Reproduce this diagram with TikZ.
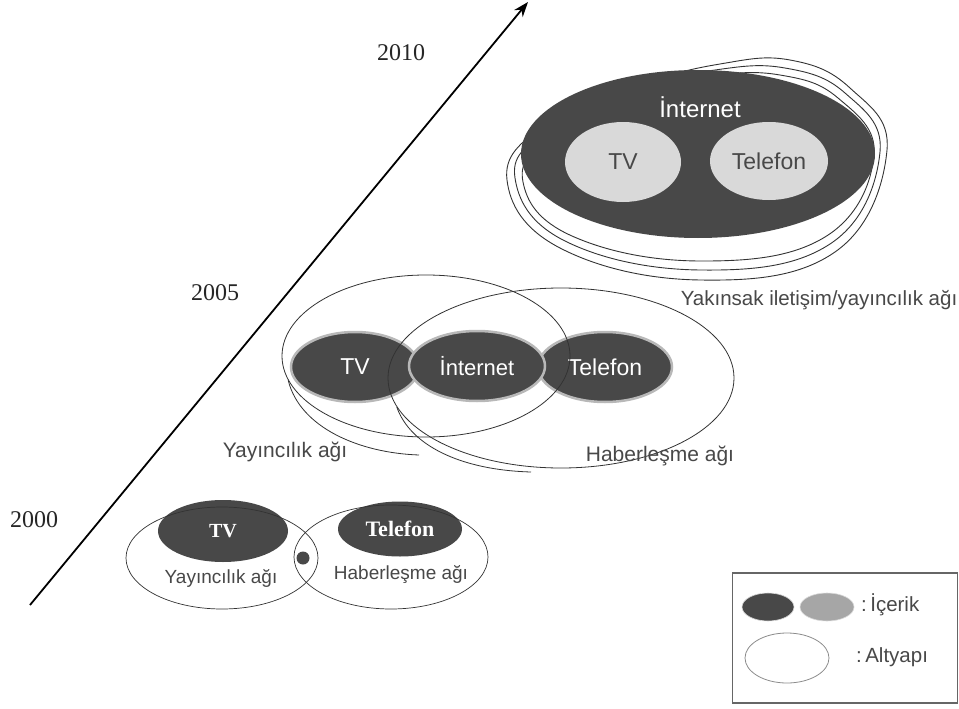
\documentclass[tikz,border=0pt]{standalone}
\usepackage{fontspec}
\setmainfont{Liberation Sans}
\newfontfamily\seriff{Liberation Serif}
\usetikzlibrary{shapes.geometric,arrows.meta}
\definecolor{darkc}{HTML}{484848}
\definecolor{lightc}{HTML}{D9D9D9}
\definecolor{midc}{HTML}{A6A6A6}
\definecolor{linec}{HTML}{333333}
\tikzset{
  content/.style={ellipse, fill=darkc, inner sep=0pt, text=white},
  contentb/.style={content, draw=lightc!85!black, line width=2.5pt},
  lightel/.style={ellipse, fill=lightc, inner sep=0pt, text=darkc},
  infra/.style={draw=linec, line width=0.8pt},
  ring/.style={draw=linec, line width=0.9pt},
  lbl/.style={font=\fontsize{19}{22}\selectfont, text=darkc, inner sep=0pt},
  lblb/.style={font=\fontsize{20.5}{24}\selectfont, text=darkc, inner sep=0pt},
  year/.style={font=\seriff\fontsize{24}{26}\selectfont, text=black!85, inner sep=0pt},
}
\begin{document}
\begin{tikzpicture}[x=1pt,y=-1pt]
\useasboundingbox[fill=white] (0,0) rectangle (959,709);

% time arrow
\coordinate (a0) at (30,605);
\coordinate (a1) at (528,2);
\draw[line width=1.8pt, -{Stealth[length=15pt,width=11pt]}] (a0) -- (a1);
\node[year] (y2010) at (401,53) {2010};
\node[year] (y2005) at (215,293) {2005};
\node[year] (y2000) at (34,520) {2000};

% ---------- 2010 ----------
\draw[ring] plot[smooth cycle, tension=0.7] coordinates {(507,180) (560,248) (700,280) (835,252) (887,150) (850,88) (790,60) (720,64) (640,85) (545,125)};
\draw[ring] plot[smooth cycle, tension=0.7] coordinates {(515,178) (565,241) (700,270) (830,244) (880,152) (845,93) (785,68) (715,70) (640,88) (548,130)};
\draw[ring] plot[smooth cycle, tension=0.7] coordinates {(523,182) (572,236) (700,261) (825,237) (874,155) (838,98) (780,75) (710,76) (640,92) (552,135)};
\node[content, minimum width=354pt, minimum height=168pt] (net10) at (698,154) {};
\node[font=\fontsize{24}{26}\selectfont, text=white, inner sep=0pt] (net10t) at (700,107) {İnternet};
\node[lightel, minimum width=116pt, minimum height=80pt, font=\fontsize{23}{26}\selectfont] (tv10) at (623,162) {TV};
\node[lightel, minimum width=118pt, minimum height=78pt, font=\fontsize{23}{26}\selectfont] (tel10) at (769,161) {Telefon};
\node[lblb] (yak) at (819,300) {Yakınsak iletişim/yayıncılık ağı};

% ---------- 2005 ----------
\node[contentb, minimum width=128pt, minimum height=70pt, font=\fontsize{23}{26}\selectfont] (tv05) at (355,367) {TV};
\node[contentb, minimum width=134pt, minimum height=70pt, font=\fontsize{23}{26}\selectfont] (tel05) at (605,367) {Telefon};
\node[contentb, minimum width=136pt, minimum height=70pt, font=\fontsize{22}{26}\selectfont] (net05) at (477,366) {İnternet};
\node[ellipse, infra, minimum width=288pt, minimum height=162pt] (yay05) at (426,356) {};
\node[ellipse, infra, minimum width=346pt, minimum height=180pt] (hab05) at (561,378) {};
\coordinate (t1) at (419,455);
\coordinate (t2) at (531,472);
\draw[infra] (yay05.190) .. controls (300,428) and (360,453) .. (t1);
\draw[infra] (hab05.190) .. controls (410,445) and (460,470) .. (t2);
\node[lblb, font=\fontsize{21}{24}\selectfont] (yay05t) at (285,452) {Yayıncılık ağı};
\node[lblb, font=\fontsize{21}{24}\selectfont] (hab05t) at (660,456) {Haberleşme ağı};

% ---------- 2000 ----------
\node[content, minimum width=130pt, minimum height=62pt, font=\seriff\bfseries\fontsize{20}{22}\selectfont] (tv00) at (223,531) {TV};
\node[content, minimum width=124pt, minimum height=55pt, font=\seriff\bfseries\fontsize{22}{24}\selectfont] (tel00) at (400,529) {Telefon};
\node[ellipse, infra, line width=0.7pt, minimum width=192pt, minimum height=102pt] (yay00) at (222,558) {};
\node[ellipse, infra, line width=0.7pt, minimum width=194pt, minimum height=104pt] (hab00) at (391,557) {};
\node[circle, fill=darkc, inner sep=0pt, minimum size=13pt] (dot) at (303,558) {};
\node[lbl] (yay00t) at (221,578) {Yayıncılık ağı};
\node[lbl] (hab00t) at (401,575) {Haberleşme ağı};

% ---------- legend ----------
\node[draw=black!60, line width=1.4pt, minimum width=225pt, minimum height=130pt, inner sep=0pt] (leg) at (845,638) {};
\node[ellipse, fill=darkc, draw=lightc, line width=0.6pt, minimum width=52pt, minimum height=28pt, inner sep=0pt] (legd) at (768,607) {};
\node[ellipse, fill=midc, draw=lightc, line width=0.6pt, minimum width=54pt, minimum height=28pt, inner sep=0pt] (legl) at (827,607) {};
\node[lblb, anchor=west] (legt1) at (861,605) {:\,İçerik};
\node[ellipse, draw=black!45, line width=0.8pt, minimum width=84pt, minimum height=50pt, inner sep=0pt] (lego) at (787,658) {};
\node[lblb, anchor=west] (legt2) at (856,657) {:\,Altyapı};
\end{tikzpicture}
\end{document}
